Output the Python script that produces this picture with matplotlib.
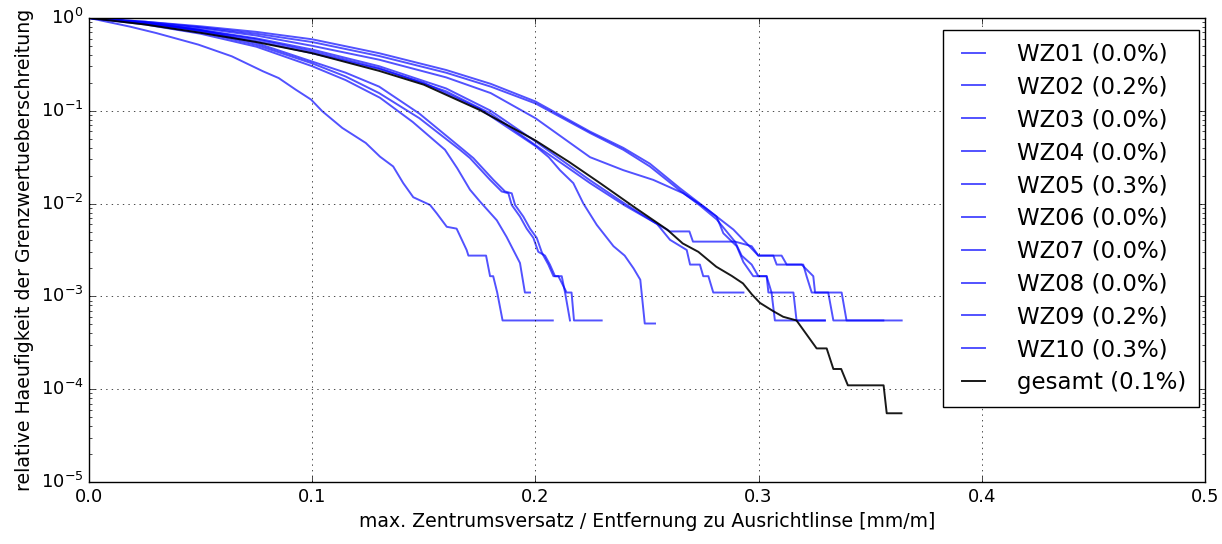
import matplotlib
matplotlib.use('Agg')
import matplotlib.pyplot as plt

plt.style.use('classic')
plt.rcParams['figure.facecolor'] = 'white'
plt.rcParams['savefig.facecolor'] = 'white'
plt.rcParams['mathtext.default'] = 'regular'

# (x = max. Zentrumsversatz, y = relative frequency)
wz01_x = [0, .0184, .030, .049, .064, .078, .085, .0926, .0995, .1045, .1135, .124, .1304, .1363, .1408,
          .1453, .1528, .1558, .1603, .1647, .1692, .1700, .1779, .1797, .1811, .1829, .1853, .2078]
wz01_y = [1, .806, .689, .516, .386, .266, .225, .169, .132, .0989, .0653, .0450, .0320, .0251, .0166,
          .0117, .00966, .00785, .00562, .00537, .00316, .00275, .00275, .00165, .00165, .0011, .00055, .00055]

wz02_x = [0, .025, .05, .075, .1, .13, .16, .18, .2, .2245, .2394, .2513, .2648, .2737, .2812, .2887,
          .2999, .3066, .3081, .3193, .3245, .3253, .3312, .3335, .3559]
wz02_y = [1, .912, .813, .708, .589, .417, .275, .195, .126, .0596, .0398, .0269, .0146, .0100, .00724, .00525,
          .00275, .00275, .0022, .0022, .00165, .0011, .0011, .00055, .00055]

wz03_x = [0, .025, .05, .075, .1, .115, .1304, .145, .1595, .165, .1707, .1752, .1827, .1871, .1931, .1953, .1976]
wz03_y = [1, .851, .676, .490, .302, .214, .138, .0759, .0380, .0240, .0141, .0105, .00661, .00437, .00229,
          .0011, .0011]

wz04_x = [0, .025, .05, .075, .1, .13, .16, .18, .2, .2245, .24, .2545, .2603, .2678, .2693, .2737, .2752,
          .2775, .2797, .2932]
wz04_y = [1, .891, .741, .603, .457, .302, .174, .100, .0468, .0178, .0100, .00603, .00407, .00316, .0022,
          .0022, .00165, .00165, .0011, .0011]

wz05_x = [0, .025, .05, .075, .1, .13, .15, .175, .2, .206, .211, .217, .2215, .2275, .235, .240, .244,
          .247, .249, .2536]
wz05_y = [1, .891, .724, .562, .417, .282, .200, .105, .0417, .0316, .0229, .0166, .0100, .00589, .00347,
          .00275, .00200, .00151, .00051, .00051]

wz06_x = [0, .025, .05, .075, .1, .115, .13, .148, .1662, .1707, .1797, .1849, .1879, .1894, .1931, .1961,
          .1991, .2013, .2043, .2065, .2088, .2118, .2133, .2155]
wz06_y = [1, .871, .708, .513, .324, .234, .155, .0832, .0380, .0309, .0180, .0135, .0129, .00966, .00724,
          .00537, .00427, .00302, .00275, .0022, .00165, .00165, .0011, .00055]

wz07_x = [0, .025, .05, .075, .1, .13, .16, .18, .2, .2245, .2394, .2513, .2648, .2737, .2812, .2894, .2924,
          .2969, .2999, .3103, .3126, .3200, .3215, .3238, .3372, .3394, .3641]
wz07_y = [1, .912, .794, .676, .550, .389, .257, .182, .120, .0575, .0380, .0251, .0138, .00955, .00676,
          .00389, .00372, .00347, .00275, .00275, .0022, .0022, .00165, .0011, .0011, .00055, .00055]

wz08_x = [0, .025, .05, .075, .1, .115, .13, .148, .1677, .1722, .1812, .1864, .1894, .1909, .1946, .1976,
          .2006, .2028, .2036, .2058, .2081, .2103, .2140, .2162, .2173, .2297]
wz08_y = [1, .891, .741, .537, .339, .257, .182, .0933, .0380, .0309, .0180, .0135, .0129, .00966, .00724,
          .00537, .00427, .00302, .00275, .0022, .00165, .00165, .0011, .0011, .00055, .00055]

wz09_x = [0, .025, .05, .075, .1, .13, .16, .18, .2, .2245, .24, .2545, .2603, .2690, .2706, .2894, .2924,
          .2969, .2999, .3036, .3044, .3156, .317, .3297]
wz09_y = [1, .891, .741, .589, .437, .288, .162, .0933, .0427, .0166, .00955, .00603, .00501, .00501, .00389,
          .00389, .00275, .0022, .00165, .00165, .0011, .0011, .00055, .00055]

wz10_x = [0, .025, .05, .075, .1, .13, .16, .18, .2, .2245, .2394, .2528, .2663, .2752, .2812, .2842, .2902,
          .2932, .2976, .3036, .3058, .3073, .3297]
wz10_y = [1, .891, .776, .646, .501, .355, .229, .155, .0832, .0316, .0229, .0180, .0129, .00933, .00724,
          .00479, .00347, .00234, .00165, .00165, .0011, .00055, .00055]

gesamt_x = [0, .025, .05, .075, .1, .13, .15, .175, .2, .215, .229, .245, .259, .266, .273, .281, .288, .293,
            .297, .3006, .3066, .311, .317, .326, .3305, .3335, .337, .340, .356, .3574, .364]
gesamt_y = [1, .851, .692, .550, .417, .269, .191, .102, .0479, .0282, .0166, .00891, .00525, .00372, .00302,
            .00209, .00166, .00138, .00105, .000851, .000692, .000603, .00055, .000275, .000275, .000165,
            .000165, .00011, .00011, .000055, .000055]

names = ['WZ01', 'WZ02', 'WZ03', 'WZ04', 'WZ05', 'WZ06', 'WZ07', 'WZ08', 'WZ09', 'WZ10']
percents = [0.0, 0.2, 0.0, 0.0, 0.3, 0.0, 0.0, 0.0, 0.2, 0.3]
gesamt_percent = 0.1

series = [(wz01_x, wz01_y), (wz02_x, wz02_y), (wz03_x, wz03_y), (wz04_x, wz04_y), (wz05_x, wz05_y),
          (wz06_x, wz06_y), (wz07_x, wz07_y), (wz08_x, wz08_y), (wz09_x, wz09_y), (wz10_x, wz10_y)]

fig = plt.figure(figsize=(12.22, 5.44), dpi=100)
ax = fig.add_axes([0.0728, 0.114, 0.9133, 0.853])

for (xs, ys), name, p in zip(series, names, percents):
    ax.plot(xs, ys, color='b', alpha=0.68, lw=1.4, label='%s (%.1f%%)' % (name, p))
ax.plot(gesamt_x, gesamt_y, color='k', alpha=0.9, lw=1.4, label='gesamt (%.1f%%)' % gesamt_percent)

ax.set_yscale('log')
ax.set_xlim(0, 0.5)
ax.set_ylim(1e-5, 1)
ax.grid(True)
ax.tick_params(labelsize=13)
ax.set_xlabel('max. Zentrumsversatz / Entfernung zu Ausrichtlinse [mm/m]', fontsize=13.6)
ax.set_ylabel('relative Haeufigkeit der Grenzwertueberschreitung', fontsize=13.6)

ax.legend(loc='upper right', bbox_to_anchor=(0.9946, 0.974), borderaxespad=0, fontsize=16.5,
          handlelength=1.6, handletextpad=1.1, labelspacing=0.43, borderpad=0.55, numpoints=2)

fig.savefig('out.png', dpi=100)
